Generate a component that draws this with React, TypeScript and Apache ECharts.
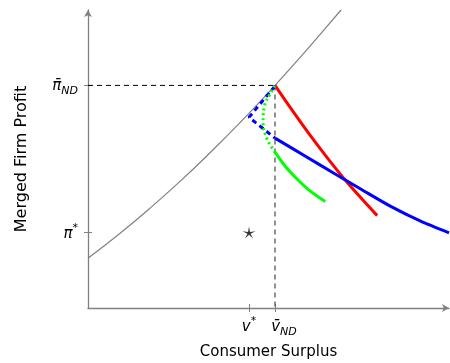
import React, { useEffect, useRef } from "react";
import * as echarts from "echarts";

// Stylised economic diagram, units: x 0..100 (consumer surplus), y 0..100 (profit)
const vStar = 44.6;
const vND = 51.8;
const piStar = 25.3;
const piND = 74.7;

const frontierX = [0, 8.9, 17.2, 25.5, 33.8, 42.1, 51.8, 58.7, 64.3, 70.1];
const frontierY = [16.7, 25.1, 33.5, 42.5, 52.1, 62.2, 74.7, 84.0, 91.8, 100];

const redX = [51.8, 56.0, 61.5, 67.0, 72.6, 80.1];
const redY = [74.7, 67.3, 58.0, 49.3, 41.0, 31.0];

const blueDashX = [51.8, 44.6, 51.8];
const blueDashY = [74.5, 64.0, 57.0];

const blueX = [51.8, 60, 68, 76, 84, 92, 100];
const blueY = [57.0, 51.1, 45.3, 39.6, 34.0, 29.2, 25.2];

const greenDotX = [51.8, 50.4, 49.0, 48.5, 49.6, 51.8];
const greenDotY = [74.5, 71.7, 68.3, 62.3, 56.7, 52.3];

const greenX = [51.8, 54.8, 57.9, 61.5, 65.7];
const greenY = [52.3, 47.3, 43.3, 39.3, 35.7];

const xTickA = [vStar];
const xTickALabel = "{m|v}{sup|*}";
const xTickB = [vND];
const xTickBLabel = "{pl|}{m|v\u0304}{sub|ND}";
const yTickValues = [piStar, piND];
const yTickLabels = ["{m|\u03c0}{sup|*}", "{m|\u03c0\u0304}{sub|ND}"];

const zip = (xs: number[], ys: number[]) => xs.map((x, i) => [x, ys[i]]);

const starPath =
  "path://M0,-10 L1.4,-1.9 L9.51,-3.09 L2.2,0.72 L5.88,8.09 L0,2.3 L-5.88,8.09 L-2.2,0.72 L-9.51,-3.09 L-1.4,-1.9 Z";

const FONT = "DejaVu Sans";
const rich = {
  m: { fontSize: 15, fontStyle: "italic", fontFamily: FONT, color: "#000", lineHeight: 22, verticalAlign: "middle" },
  sub: { fontSize: 11, fontStyle: "italic", fontFamily: FONT, color: "#000", lineHeight: 11, verticalAlign: "bottom" },
  sup: { fontSize: 11, fontFamily: FONT, color: "#000", lineHeight: 12, verticalAlign: "top" },
  pl: { width: 18, lineHeight: 22 },
};

export default function App() {
  const ref = useRef<HTMLDivElement>(null);
  useEffect(() => {
    if (!ref.current) return;
    const chart = echarts.init(ref.current, null, { renderer: "svg" });
    const axisColor = "#808080";
    chart.setOption({
      animation: false,
      grid: { left: 88, right: 1, top: 10, bottom: 53, containLabel: false },
      xAxis: [
        {
          type: "value",
          min: 0,
          max: 100,
          position: "bottom",
          splitLine: { show: false },
          axisLine: {
            show: true,
            lineStyle: { color: axisColor, width: 1.3 },
            symbol: ["none", "arrow"],
            symbolSize: [6, 7],
          },
          axisTick: { show: true, customValues: [vStar, vND], length: 4, lineStyle: { color: axisColor } },
          axisLabel: {
            show: true,
            customValues: xTickA,
            hideOverlap: false,
            showMinLabel: true,
            showMaxLabel: true,
            margin: 7,
            formatter: () => xTickALabel,
            rich,
          },
          name: "Consumer Surplus",
          nameLocation: "middle",
          nameGap: 35,
          nameTextStyle: { fontFamily: FONT, fontSize: 15, color: "#000" },
        },
        {
          type: "value",
          min: 0,
          max: 100,
          position: "bottom",
          splitLine: { show: false },
          axisLine: { show: false },
          axisTick: { show: true, inside: true, customValues: [vStar, vND], length: 4, lineStyle: { color: axisColor } },
          axisLabel: {
            show: true,
            customValues: xTickB,
            hideOverlap: false,
            showMinLabel: true,
            showMaxLabel: true,
            margin: 7,
            formatter: () => xTickBLabel,
            rich,
          },
        },
      ],
      yAxis: [
        {
          type: "value",
          min: 0,
          max: 100,
          position: "left",
          splitLine: { show: false },
          axisLine: {
            show: true,
            lineStyle: { color: axisColor, width: 1.3 },
            symbol: ["none", "arrow"],
            symbolSize: [6, 7],
          },
          axisTick: { show: true, customValues: yTickValues, length: 4, lineStyle: { color: axisColor } },
          axisLabel: {
            show: true,
            customValues: yTickValues,
            hideOverlap: false,
            showMinLabel: true,
            showMaxLabel: true,
            margin: 10,
            formatter: (v: number) => {
              const i = yTickValues.findIndex((t) => Math.abs(t - v) < 1e-6);
              return i >= 0 ? yTickLabels[i] : "";
            },
            rich,
          },
          name: "Merged Firm Profit",
          nameLocation: "middle",
          nameGap: 60,
          nameRotate: 90,
          nameTextStyle: { fontFamily: FONT, fontSize: 16, color: "#000" },
        },
        {
          type: "value",
          min: 0,
          max: 100,
          position: "left",
          splitLine: { show: false },
          axisLine: { show: false },
          axisTick: { show: true, inside: true, customValues: yTickValues, length: 4, lineStyle: { color: axisColor } },
          axisLabel: { show: false },
        },
      ],
      series: [
        {
          type: "line",
          data: [
            [0, piND],
            [vND, piND],
          ],
          showSymbol: false,
          lineStyle: { color: "#000", width: 1, type: [5, 4] },
        },
        {
          type: "line",
          data: [
            [vND, piND],
            [vND, 0],
          ],
          showSymbol: false,
          lineStyle: { color: "#555", width: 1.3, type: [5, 4] },
        },
        {
          type: "line",
          data: zip(frontierX, frontierY),
          smooth: true,
          showSymbol: false,
          lineStyle: { color: "#808080", width: 1.2 },
        },
        {
          type: "line",
          data: zip(redX, redY),
          smooth: 0.25,
          showSymbol: false,
          lineStyle: { color: "#ff0000", width: 3 },
        },
        {
          type: "line",
          data: zip(blueDashX, blueDashY),
          showSymbol: false,
          lineStyle: { color: "#0000ff", width: 3, type: [5, 4] },
        },
        {
          type: "line",
          data: zip(blueX, blueY),
          smooth: 0.25,
          showSymbol: false,
          lineStyle: { color: "#0000ff", width: 3 },
        },
        {
          type: "line",
          data: zip(greenDotX, greenDotY),
          smooth: 0.4,
          showSymbol: false,
          lineStyle: { color: "#00ff00", width: 3, type: [2, 3] },
        },
        {
          type: "line",
          data: zip(greenX, greenY),
          smooth: 0.25,
          showSymbol: false,
          lineStyle: { color: "#00ff00", width: 3 },
        },
        {
          type: "scatter",
          data: [[vStar, piStar]],
          symbol: starPath,
          symbolSize: [13, 12],
          itemStyle: { color: "#000" },
        },
      ],
    });
    return () => chart.dispose();
  }, []);
  return (
    <div
      ref={ref}
      style={{ position: "fixed", left: 0, top: 0, width: 450, height: 363 }}
    />
  );
}
